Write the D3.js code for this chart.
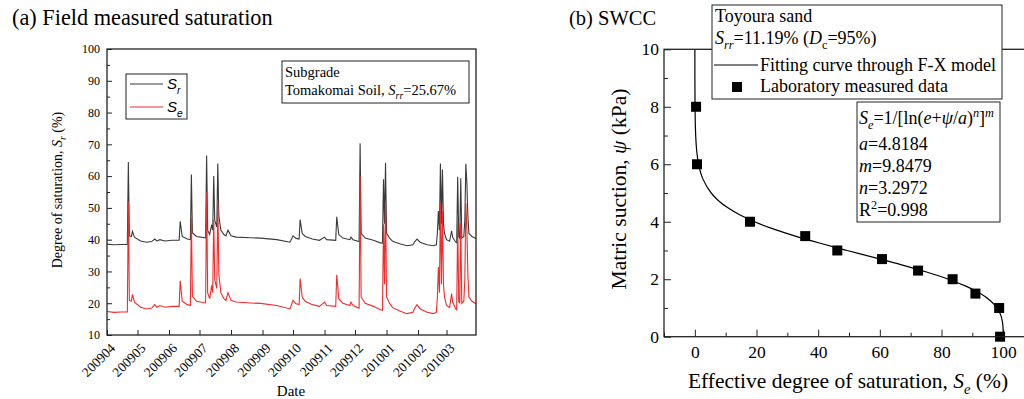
<!DOCTYPE html>
<html>
<head>
<meta charset="utf-8">
<script src="https://cdn.jsdelivr.net/npm/d3@7"></script>
<style>
  body { margin: 0; background: #fff; }
  svg { display: block; font-family: "Liberation Serif", "Times New Roman", serif; }
</style>
</head>
<body>
<svg id="chart" width="1024" height="399"></svg>
<script>
// ---------- (a) field measured saturation, Tomakomai subgrade ----------
const dates = [
  "2009-04-01","2009-04-08","2009-04-15","2009-04-21","2009-04-22","2009-04-23","2009-04-25","2009-04-26","2009-04-28",
  "2009-05-04","2009-05-10","2009-05-15","2009-05-18","2009-05-20","2009-05-23","2009-05-28",
  "2009-06-04","2009-06-11","2009-06-12","2009-06-14","2009-06-19","2009-06-22","2009-06-23","2009-06-24","2009-06-28",
  "2009-07-07","2009-07-08","2009-07-09","2009-07-11","2009-07-13","2009-07-14","2009-07-15","2009-07-16","2009-07-18","2009-07-19","2009-07-20","2009-07-22","2009-07-25","2009-07-27","2009-07-29",
  "2009-08-01","2009-08-06","2009-08-20","2009-08-30",
  "2009-09-15","2009-09-28",
  "2009-10-01","2009-10-04","2009-10-07","2009-10-08","2009-10-10","2009-10-13","2009-10-20","2009-10-27",
  "2009-11-01","2009-11-03","2009-11-12","2009-11-13","2009-11-15","2009-11-19","2009-11-26","2009-11-27","2009-11-29",
  "2009-12-04","2009-12-05","2009-12-06","2009-12-07","2009-12-11","2009-12-19","2009-12-26","2009-12-28","2009-12-29","2009-12-30","2009-12-31",
  "2010-01-01","2010-01-04","2010-01-07","2010-01-14","2010-01-21","2010-01-27","2010-01-29","2010-01-31",
  "2010-02-03","2010-02-10","2010-02-16","2010-02-19","2010-02-20","2010-02-21","2010-02-22","2010-02-23","2010-02-24","2010-02-25","2010-02-26","2010-02-27",
  "2010-03-01","2010-03-04","2010-03-06","2010-03-07","2010-03-10","2010-03-11","2010-03-12","2010-03-13","2010-03-14","2010-03-15","2010-03-16","2010-03-18","2010-03-19","2010-03-20","2010-03-21","2010-03-22","2010-03-23","2010-03-26","2010-03-30"
];
// degree of saturation S_r (%)
const srValues = [
  38.6, 38.4, 38.5, 38.5, 64.4, 41.2, 41.0, 42.6, 40.8,
  39.6, 39.2, 39.4, 40.2, 39.6, 40.0, 39.6,
  39.8, 39.8, 45.8, 41.0, 40.2, 40.0, 60.5, 42.2, 41.0,
  40.6, 66.5, 43.0, 41.6, 44.7, 43.0, 60.0, 46.0, 44.0, 64.0, 47.4, 43.0, 41.6, 41.2, 43.0,
  41.2, 40.8, 40.6, 40.5,
  40.0, 39.2,
  41.2, 40.4, 40.2, 46.3, 42.0, 41.0, 40.2, 39.8,
  40.8, 40.0, 39.8, 47.2, 41.6, 40.5, 40.0, 40.8, 40.0,
  39.5, 39.4, 70.3, 42.0, 40.5, 39.8, 39.0, 38.9, 59.0, 45.0, 64.2,
  42.0, 40.5, 39.5, 38.7, 38.1, 38.4, 39.5, 40.2,
  39.2, 38.4, 38.1, 38.4, 42.0, 49.0, 43.0, 64.0, 45.0, 62.1, 45.0, 42.0,
  40.0, 39.5, 42.8, 40.8, 39.2, 39.0, 59.8, 41.0, 40.5, 59.3, 40.5, 41.0, 46.0, 63.9, 58.0, 47.4, 42.0, 41.0, 40.4
];
// effective degree of saturation S_e (%)
const seValues = [
  17.40, 17.13, 17.26, 17.26, 52.11, 20.89, 20.62, 22.78, 20.36,
  18.74, 18.20, 18.47, 19.55, 18.74, 19.28, 18.74,
  19.01, 19.01, 27.08, 20.62, 19.55, 19.28, 46.86, 22.24, 20.62,
  20.09, 54.93, 23.32, 21.43, 25.60, 23.32, 46.19, 27.35, 24.66, 51.57, 29.23, 23.32, 21.43, 20.89, 23.32,
  20.89, 20.36, 20.09, 19.95,
  19.28, 18.20,
  20.89, 19.82, 19.55, 27.75, 21.97, 20.62, 19.55, 19.01,
  20.36, 19.28, 19.01, 28.97, 21.43, 19.95, 19.28, 20.36, 19.28,
  18.61, 18.47, 60.04, 21.97, 19.95, 19.01, 17.93, 17.80, 44.84, 26.01, 51.84,
  21.97, 19.95, 18.61, 17.53, 16.72, 17.13, 18.61, 19.55,
  18.20, 17.13, 16.72, 17.13, 21.97, 31.39, 23.32, 51.57, 26.01, 49.01, 26.01, 21.97,
  19.28, 18.61, 23.05, 20.36, 18.20, 17.93, 45.92, 20.62, 19.95, 45.24, 19.95, 20.62, 27.35, 51.43, 43.50, 29.23, 21.97, 20.62, 19.82
];
const monthTicks = ["200904","200905","200906","200907","200908","200909","200910","200911","200912","201001","201002","201003"];
const saturationTicks = [10, 20, 30, 40, 50, 60, 70, 80, 90, 100];
const saturationMinor = [15, 25, 35, 45, 55, 65, 75, 85, 95];

// ---------- (b) SWCC of Toyoura sand ----------
const labSe = [0.4, 0.7, 17.9, 35.8, 46.2, 60.7, 72.4, 83.6, 91.0, 98.7, 99.0];
const labSuction = [8, 6, 4, 3.5, 3, 2.7, 2.3, 2, 1.5, 1, 0];
const fitSuction = [0, 0.25, 0.5, 0.75, 1, 1.25, 1.5, 1.75, 2, 2.25, 2.5, 2.75, 3, 3.25, 3.5, 3.75, 4, 4.25, 4.5, 4.75, 5, 5.5, 6, 6.5, 7, 8, 9, 10];
const fitSe = [100, 99.98, 99.79, 99.22, 97.99, 95.87, 92.62, 88.09, 82.24, 75.15, 67.06, 58.32, 49.37, 40.67, 32.57, 25.41, 19.34, 14.37, 10.48, 7.50, 5.30, 2.57, 1.22, 0.58, 0.28, 0.07, 0.02, 0.01];
const seTicks = [0, 20, 40, 60, 80, 100];
const seMinor = [-10, 10, 30, 50, 70, 90, 110];
const suctionTicks = [0, 2, 4, 6, 8, 10];
const suctionMinor = [1, 3, 5, 7, 9];

const svg = d3.select("#chart");
const AXIS = "#222";

// text with italic / subscript / superscript pieces
function richText(parent, x, y, size, parts, family) {
  const t = parent.append("text").attr("x", x).attr("y", y).attr("font-size", size).attr("fill", "#000");
  if (family) t.attr("font-family", family);
  let shift = 0;
  parts.forEach(p => {
    const target = p.s === "sub" ? size * 0.3 : p.s === "sup" ? -size * 0.4 : 0;
    const ts = t.append("tspan").text(p.t).attr("dy", target - shift);
    shift = target;
    if (p.s) ts.attr("font-size", size * 0.68);
    if (p.i) ts.attr("font-style", "italic");
  });
  return t;
}

// ===== panel (a) =====
const parseDay = d3.utcParse("%Y-%m-%d");
const parseMonth = d3.utcParse("%Y%m");
const series = dates.map((d, i) => ({ date: parseDay(d), sr: srValues[i], se: seValues[i] }));

const xL = d3.scaleUtc().domain([parseDay("2009-04-01"), parseDay("2010-03-30")]).range([107, 476]);
const yL = d3.scaleLinear().domain([10, 100]).range([335, 49]);

const gA = svg.append("g");
gA.append("text").attr("x", 12).attr("y", 25).attr("font-size", 22.3).attr("fill", "#000").text("(a) Field measured saturation");

// minor ticks
gA.append("g").attr("transform", "translate(107,0)")
  .call(d3.axisLeft(yL).tickValues(saturationMinor).tickSize(-3).tickFormat(""))
  .call(g => g.select(".domain").remove())
  .call(g => g.selectAll("line").attr("stroke", AXIS));
gA.append("g").attr("transform", "translate(107,0)")
  .call(d3.axisLeft(yL).tickValues(saturationTicks).tickSizeInner(-5).tickSizeOuter(0).tickPadding(7))
  .call(g => g.select(".domain").remove())
  .call(g => g.selectAll("line").attr("stroke", AXIS))
  .call(g => g.selectAll("text").attr("font-size", 12).attr("font-family", "Liberation Serif").attr("fill", "#000"));

const monthDates = monthTicks.map(parseMonth);
gA.append("g").attr("transform", "translate(0,335)")
  .call(d3.axisBottom(xL).tickValues(monthDates).tickSizeInner(-5).tickSizeOuter(0).tickFormat(""))
  .call(g => g.select(".domain").remove())
  .call(g => g.selectAll("line").attr("stroke", AXIS));
gA.append("g").selectAll("text").data(monthTicks).join("text")
  .attr("transform", d => `translate(${xL(parseMonth(d)) + 9},349) rotate(-45)`)
  .attr("text-anchor", "end").attr("font-size", 13.5).attr("fill", "#000").text(d => d);

// series
const lineSr = d3.line().x(d => xL(d.date)).y(d => yL(d.sr));
const lineSe = d3.line().x(d => xL(d.date)).y(d => yL(d.se));
gA.append("path").datum(series).attr("d", lineSr).attr("fill", "none").attr("stroke", "#3a3a3a").attr("stroke-width", 1.1);
gA.append("path").datum(series).attr("d", lineSe).attr("fill", "none").attr("stroke", "#f22b2b").attr("stroke-width", 1.1);

// frame
gA.append("rect").attr("x", 107).attr("y", 49).attr("width", 369).attr("height", 286)
  .attr("fill", "none").attr("stroke", AXIS).attr("stroke-width", 1.3);

// axis titles
gA.append("text").attr("x", 291).attr("y", 396).attr("text-anchor", "middle").attr("font-size", 15).attr("fill", "#000").text("Date");
const yTitleA = richText(gA, 0, 0, 14, [
  { t: "Degree of saturation, " }, { t: "S", i: true }, { t: "r", i: true, s: "sub" }, { t: " (%)" }
]);
yTitleA.attr("text-anchor", "middle").attr("transform", "translate(62,190) rotate(-90)");

// legend
const legA = gA.append("g");
legA.append("rect").attr("x", 126).attr("y", 74).attr("width", 61).attr("height", 45)
  .attr("fill", "#fff").attr("stroke", AXIS).attr("stroke-width", 1);
[["r", "#3a3a3a", 84], ["e", "#f22b2b", 107]].forEach(([sub, col, yy]) => {
  legA.append("line").attr("x1", 130).attr("x2", 163).attr("y1", yy).attr("y2", yy).attr("stroke", col).attr("stroke-width", 1.1);
  richText(legA, 167, yy + 5, 15, [{ t: "S", i: true }, { t: sub, i: true, s: "sub" }], "Liberation Sans");
});

// annotation
gA.append("rect").attr("x", 282).attr("y", 61).attr("width", 187).attr("height", 42)
  .attr("fill", "#fff").attr("stroke", AXIS).attr("stroke-width", 1);
richText(gA, 285, 77, 14.5, [{ t: "Subgrade" }]);
richText(gA, 285, 95, 14.5, [
  { t: "Tomakomai Soil, " }, { t: "S", i: true }, { t: "rr", i: true, s: "sub" }, { t: "=25.67%" }
]);

// ===== panel (b) =====
const xR = d3.scaleLinear().domain([-10, 110]).range([664, 1034]);
const yR = d3.scaleLinear().domain([0, 10]).range([336.7, 49.3]);
const gB = svg.append("g");

gB.append("text").attr("x", 569).attr("y", 25).attr("font-size", 20.5).attr("fill", "#000").text("(b) SWCC");

gB.append("g").attr("transform", "translate(664,0)")
  .call(d3.axisLeft(yR).tickValues(suctionMinor).tickSize(-4).tickFormat(""))
  .call(g => g.select(".domain").remove())
  .call(g => g.selectAll("line").attr("stroke", AXIS));
gB.append("g").attr("transform", "translate(664,0)")
  .call(d3.axisLeft(yR).tickValues(suctionTicks).tickSizeInner(-7).tickSizeOuter(0).tickPadding(5))
  .call(g => g.select(".domain").remove())
  .call(g => g.selectAll("line").attr("stroke", AXIS))
  .call(g => g.selectAll("text").attr("font-size", 17.5).attr("font-family", "Liberation Serif").attr("fill", "#000"));
gB.append("g").attr("transform", "translate(0,336.7)")
  .call(d3.axisBottom(xR).tickValues(seMinor).tickSize(-4).tickFormat(""))
  .call(g => g.select(".domain").remove())
  .call(g => g.selectAll("line").attr("stroke", AXIS));
gB.append("g").attr("transform", "translate(0,336.7)")
  .call(d3.axisBottom(xR).tickValues(seTicks).tickSizeInner(-7).tickSizeOuter(0).tickPadding(9))
  .call(g => g.select(".domain").remove())
  .call(g => g.selectAll("line").attr("stroke", AXIS))
  .call(g => g.selectAll("text").attr("font-size", 17.5).attr("font-family", "Liberation Serif").attr("fill", "#000"));

// fitted curve
const fit = d3.sort(fitSuction.map((s, i) => ({ s, se: fitSe[i] })), d => -d.s);
gB.append("path").datum(fit)
  .attr("d", d3.line().x(d => xR(d.se)).y(d => yR(d.s)).curve(d3.curveMonotoneY))
  .attr("fill", "none").attr("stroke", "#000").attr("stroke-width", 1.2);

// measured points
gB.selectAll("rect.pt").data(labSe.map((v, i) => ({ se: v, s: labSuction[i] }))).join("rect")
  .attr("class", "pt").attr("x", d => xR(d.se) - 5).attr("y", d => yR(d.s) - 5)
  .attr("width", 10).attr("height", 10).attr("fill", "#000");

// frame (right edge runs off the page)
gB.append("rect").attr("x", 664).attr("y", 49.3).attr("width", 370).attr("height", 287.4)
  .attr("fill", "none").attr("stroke", AXIS).attr("stroke-width", 1.3);

// axis titles
richText(gB, 848, 388, 21.5, [
  { t: "Effective degree of saturation, " }, { t: "S", i: true }, { t: "e", i: true, s: "sub" }, { t: " (%)" }
]).attr("text-anchor", "middle");
richText(gB, 0, 0, 21.5, [{ t: "Matric suction, " }, { t: "ψ", i: true }, { t: " (kPa)" }])
  .attr("text-anchor", "middle").attr("transform", "translate(626,189) rotate(-90)");

// legend box
const legB = gB.append("g");
legB.append("rect").attr("x", 712).attr("y", 5).attr("width", 290).attr("height", 94)
  .attr("fill", "#fff").attr("stroke", AXIS).attr("stroke-width", 1);
richText(legB, 715, 22, 18, [{ t: "Toyoura sand" }]);
richText(legB, 715, 44, 18, [
  { t: "S", i: true }, { t: "rr", i: true, s: "sub" }, { t: "=11.19% (" },
  { t: "D", i: true }, { t: "c", s: "sub" }, { t: "=95%)" }
]);
legB.append("line").attr("x1", 714).attr("x2", 758).attr("y1", 65).attr("y2", 65).attr("stroke", "#000").attr("stroke-width", 1.2);
richText(legB, 760, 71, 18, [{ t: "Fitting curve through F-X model" }]);
legB.append("rect").attr("x", 732).attr("y", 82).attr("width", 10).attr("height", 10).attr("fill", "#000");
richText(legB, 760, 92, 18, [{ t: "Laboratory measured data" }]);

// model box
const eqB = gB.append("g");
eqB.append("rect").attr("x", 857).attr("y", 102).attr("width", 143).attr("height", 120)
  .attr("fill", "#fff").attr("stroke", AXIS).attr("stroke-width", 1);
richText(eqB, 859, 124, 18, [
  { t: "S", i: true }, { t: "e", i: true, s: "sub" }, { t: "=1/[ln(" }, { t: "e", i: true }, { t: "+" },
  { t: "ψ", i: true }, { t: "/" }, { t: "a", i: true }, { t: ")" }, { t: "n", i: true, s: "sup" },
  { t: "]" }, { t: "m", i: true, s: "sup" }
]);
richText(eqB, 859, 150, 18, [{ t: "a", i: true }, { t: "=4.8184" }]);
richText(eqB, 859, 172, 18, [{ t: "m", i: true }, { t: "=9.8479" }]);
richText(eqB, 859, 194, 18, [{ t: "n", i: true }, { t: "=3.2972" }]);
richText(eqB, 859, 216, 18, [{ t: "R" }, { t: "2", s: "sup" }, { t: "=0.998" }]);
</script>
</body>
</html>
